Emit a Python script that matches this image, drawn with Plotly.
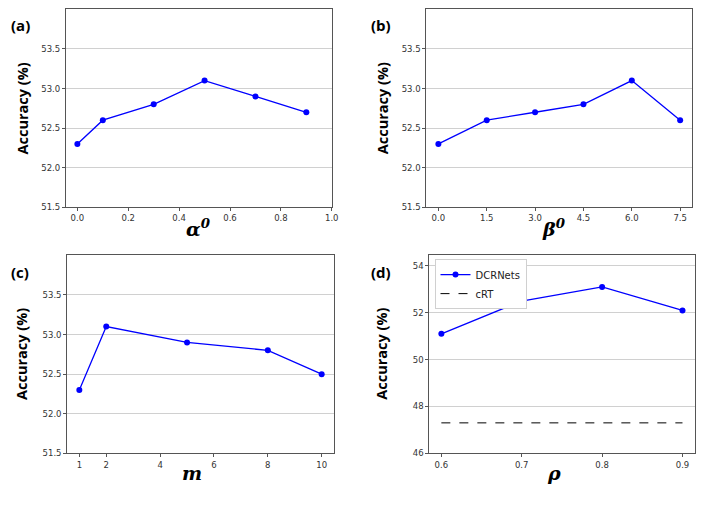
import plotly.graph_objects as go

# ---- data ----
alpha_x = [0.0, 0.1, 0.3, 0.5, 0.7, 0.9]
alpha_acc = [52.3, 52.6, 52.8, 53.1, 52.9, 52.7]

beta_x = [0.0, 1.5, 3.0, 4.5, 6.0, 7.5]
beta_acc = [52.3, 52.6, 52.7, 52.8, 53.1, 52.6]

m_x = [1, 2, 5, 8, 10]
m_acc = [52.3, 53.1, 52.9, 52.8, 52.5]

rho_x = [0.6, 0.7, 0.8, 0.9]
rho_dcr = [51.1, 52.5, 53.1, 52.1]
rho_crt = [47.3, 47.3, 47.3, 47.3]

ticks_a = [0.0, 0.2, 0.4, 0.6, 0.8, 1.0]
ticks_b = [0.0, 1.5, 3.0, 4.5, 6.0, 7.5]
ticks_c = [1, 2, 4, 6, 8, 10]
ticks_d = [0.6, 0.7, 0.8, 0.9]
yt_abc = [51.5, 52.0, 52.5, 53.0, 53.5]
yt_d = [46, 48, 50, 52, 54]

# page offset / scale compensation (target pixel -> figure pixel)
OFF = 8
S = 0.988
W = int(round(706 / S - OFF))
H = int(round(506 / S - OFF))
BLUE = "#0000ff"

def fx(x):
    return x / S - OFF

def px(x):
    return fx(x) / W

def py(y):
    return 1 - fx(y) / H

def dx(a, b):
    return [px(a), px(b)]

def dy(top, bottom):
    return [py(bottom), py(top)]

fig = go.Figure()

line_style = dict(color=BLUE, width=1.3)
mk = dict(color=BLUE, size=6)

fig.add_trace(go.Scatter(x=alpha_x, y=alpha_acc, mode="lines+markers", line=line_style,
                         marker=mk, xaxis="x", yaxis="y", showlegend=False))
fig.add_trace(go.Scatter(x=beta_x, y=beta_acc, mode="lines+markers", line=line_style,
                         marker=mk, xaxis="x2", yaxis="y2", showlegend=False))
fig.add_trace(go.Scatter(x=m_x, y=m_acc, mode="lines+markers", line=line_style,
                         marker=mk, xaxis="x3", yaxis="y3", showlegend=False))
fig.add_trace(go.Scatter(x=rho_x, y=rho_dcr, mode="lines+markers", line=line_style,
                         marker=mk, xaxis="x4", yaxis="y4", name="DCRNets"))
fig.add_trace(go.Scatter(x=rho_x, y=rho_crt, mode="lines", line=dict(color="black", width=1, dash="dash"),
                         xaxis="x4", yaxis="y4", name="cRT"))

tickfont = dict(family="DejaVu Sans", size=8.5, color="#333333")
common_x = dict(showgrid=False, zeroline=False, showline=True, mirror=True, linecolor="#555555",
                linewidth=1, ticks="outside", ticklen=3, tickcolor="#555555", tickfont=tickfont)
common_y = dict(showgrid=True, gridcolor="#d0d0d0", gridwidth=1, zeroline=False, showline=True,
                mirror=True, linecolor="#555555", linewidth=1, ticks="outside", ticklen=3,
                tickcolor="#555555", tickfont=tickfont)

top_t, top_b = 9.3, 206.7
bot_t, bot_b = 254.7, 452.3

fig.update_layout(
    width=W, height=H, margin=dict(l=0, r=0, t=0, b=0),
    paper_bgcolor="white", plot_bgcolor="white",
    xaxis=dict(common_x, domain=dx(65.7, 331), range=[-0.045, 1.0], tickvals=ticks_a,
               ticktext=[f"{v:.1f}" for v in ticks_a], anchor="y"),
    yaxis=dict(common_y, domain=dy(top_t, top_b), range=[51.5, 54.0], tickvals=yt_abc,
               ticktext=[f"{v:.1f}" for v in yt_abc], anchor="x"),
    xaxis2=dict(common_x, domain=dx(425.3, 690.7), range=[-0.375, 7.875], tickvals=ticks_b,
                ticktext=[f"{v:.1f}" for v in ticks_b], anchor="y2"),
    yaxis2=dict(common_y, domain=dy(top_t, top_b), range=[51.5, 54.0], tickvals=yt_abc,
                ticktext=[f"{v:.1f}" for v in yt_abc], anchor="x2"),
    xaxis3=dict(common_x, domain=dx(67, 333), range=[0.55, 10.45], tickvals=ticks_c,
                ticktext=[str(v) for v in ticks_c], anchor="y3"),
    yaxis3=dict(common_y, domain=dy(bot_t, bot_b), range=[51.5, 54.0], tickvals=yt_abc,
                ticktext=[f"{v:.1f}" for v in yt_abc], anchor="x3"),
    xaxis4=dict(common_x, domain=dx(428.3, 693), range=[0.585, 0.915], tickvals=ticks_d,
                ticktext=[f"{v:.1f}" for v in ticks_d], anchor="y4"),
    yaxis4=dict(common_y, domain=dy(bot_t, bot_b), range=[46, 54.45], tickvals=yt_d,
                ticktext=[str(v) for v in yt_d], anchor="x4"),
    legend=dict(x=px(433.5), y=py(258.5), xanchor="left", yanchor="top",
                bgcolor="white", bordercolor="#d0d0d0", borderwidth=1,
                font=dict(family="DejaVu Sans", size=10, color="#222222"),
                itemwidth=30, tracegroupgap=0),
)

ann = []
# panel labels
for txt, x, y in [("(a)", 20, 25), ("(b)", 380, 25), ("(c)", 20, 271), ("(d)", 380, 271)]:
    ann.append(dict(text=f"<b>{txt}</b>", x=px(x), y=py(y), xref="paper", yref="paper",
                    xanchor="center", yanchor="middle", showarrow=False,
                    font=dict(family="Open Sans", size=15, color="black")))
# y labels
for x, y in [(22, 108), (381, 108), (22, 353), (381, 353)]:
    ann.append(dict(text="<b>Accuracy (%)</b>", x=px(x), y=py(y), xref="paper", yref="paper",
                    xanchor="center", yanchor="middle", showarrow=False, textangle=-90,
                    font=dict(family="Open Sans", size=14.5, color="black")))
# x labels
serif = dict(family="DejaVu Serif", size=19, color="black")
for txt, x, y in [("<b><i>α</i></b><sup><b><i>0</i></b></sup>", 198, 227),
                  ("<b><i>β</i></b><sup><b><i>0</i></b></sup>", 553, 227),
                  ("<b><i>m</i></b>", 192, 472),
                  ("<b><i>ρ</i></b>", 553, 472)]:
    ann.append(dict(text=txt, x=px(x), y=py(y), xref="paper", yref="paper",
                    xanchor="center", yanchor="middle", showarrow=False, font=serif))
fig.update_layout(annotations=ann)

fig.write_html("out.html")
